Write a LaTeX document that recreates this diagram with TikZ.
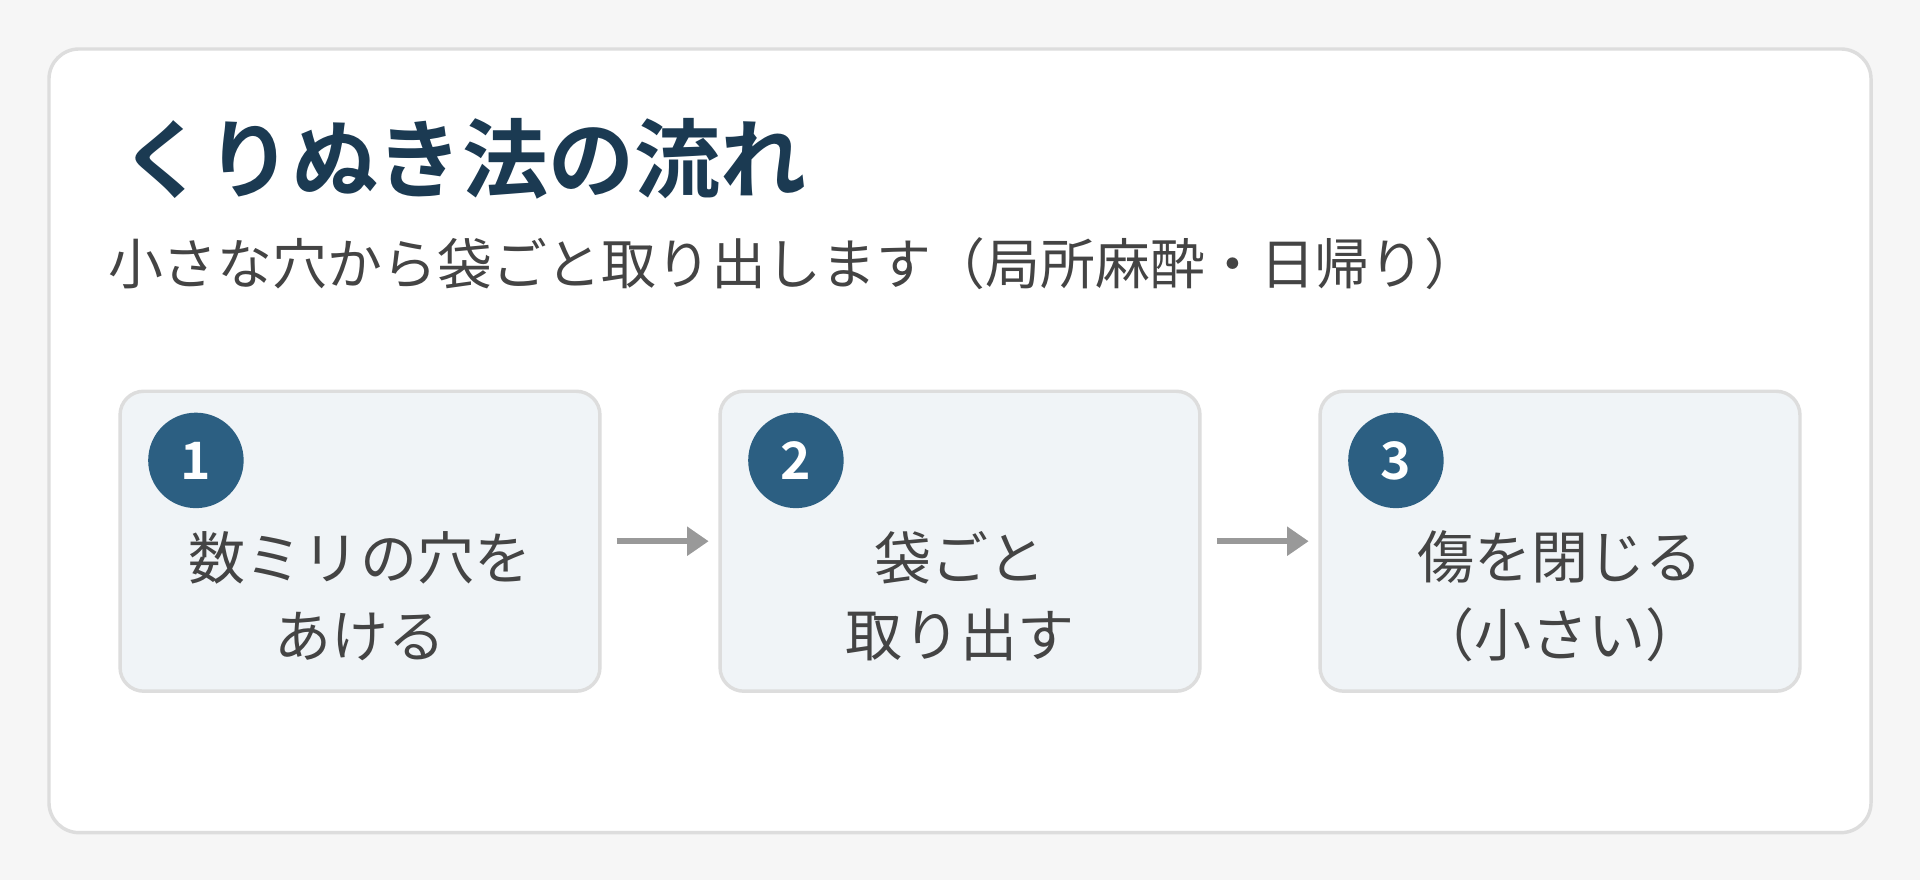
\documentclass[tikz,border=0pt]{standalone}
\usepackage{fontspec}
\setmainfont{Noto Sans CJK JP}
\newfontfamily\jpbold{Noto Sans CJK JP Bold}
\usetikzlibrary{positioning,arrows.meta}
\definecolor{pagebg}{HTML}{F6F6F6}
\definecolor{cardline}{HTML}{DDDDDD}
\definecolor{stepfill}{HTML}{F0F4F7}
\definecolor{navy}{HTML}{1B3A52}
\definecolor{badge}{HTML}{2C5F82}
\definecolor{bodytext}{HTML}{444444}
\definecolor{arrowgray}{HTML}{999999}
\tikzset{
  stepbox/.style={draw=cardline, line width=1.6pt, fill=stepfill, rounded corners=11pt,
    minimum width=7.84cm, minimum height=4.9cm},
  num/.style={circle, fill=badge, minimum size=1.56cm, inner sep=0pt,
    text=white, font=\jpbold\fontsize{24}{24}\selectfont},
  steptext/.style={align=center, text=bodytext, font=\fontsize{26.5}{36}\selectfont},
  link/.style={draw=arrowgray, line width=3pt, -{Triangle[length=10pt,width=13pt]}}
}
\begin{document}
\begin{tikzpicture}[x=0.02cm,y=-0.02cm]
  \fill[pagebg] (0,0) rectangle (1568,719);
  \useasboundingbox (0,0) rectangle (1568,719);
  \draw[cardline, line width=1.6pt, fill=white, rounded corners=14pt] (40,40) rectangle (1528,680);

  \node[anchor=west, text=navy, font=\jpbold\fontsize{40}{40}\selectfont] (title) at (92,130) {くりぬき法の流れ};
  \node[anchor=west, text=bodytext, font=\fontsize{25.5}{25.5}\selectfont] (sub) at (82,215) {小さな穴から袋ごと取り出します（局所麻酔・日帰り）};

  \node[stepbox] (s1) at (294,442) {};
  \node[stepbox] (s2) at (784,442) {};
  \node[stepbox] (s3) at (1274,442) {};

  \node[num] (n1) at (160,376) {1};
  \node[num] (n2) at (650,376) {2};
  \node[num] (n3) at (1140,376) {3};

  \node[steptext] (t1) at (294,487) {数ミリの穴を\\あける};
  \node[steptext] (t2) at (784,487) {袋ごと\\取り出す};
  \node[steptext] (t3) at (1274,487) {傷を閉じる\\（小さい）};

  \draw[link] ([xshift=7pt]s1.east) -- ([xshift=-4.5pt]s2.west);
  \draw[link] ([xshift=7pt]s2.east) -- ([xshift=-4.5pt]s3.west);
\end{tikzpicture}
\end{document}
